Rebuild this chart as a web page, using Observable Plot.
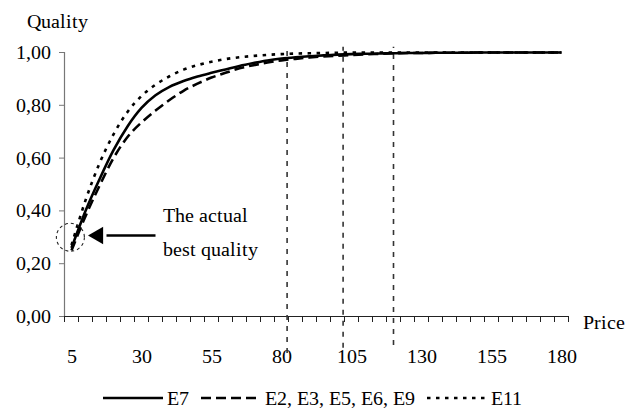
<!DOCTYPE html>
<html>
<head>
<meta charset="utf-8">
<script src="https://cdn.jsdelivr.net/npm/d3@7"></script>
<script src="https://cdn.jsdelivr.net/npm/@observablehq/plot@0.6"></script>
<style>
  @font-face { font-family: "ChartSerif"; src: local("Liberation Serif"), local("LiberationSerif"), local("LiberationSerif-Regular"), local("Times New Roman"); }
</style>
</head>
<body style="margin:0;padding:0;background:#fff;overflow:hidden;font-size:20px">
<div id="chart"></div>
<div id="legend" style="height:36px;display:flex;align-items:center;justify-content:center;color:#000"></div>
<script>
// ---- data ----
const prices = [5,10,15,20,25,30,35,40,45,50,55,60,65,70,75,80,85,90,95,100,105,110,115,120,125,130,135,140,145,150,155,160,165,170,175,180];
const e7  = [0.26,0.40,0.52,0.63,0.72,0.79,0.838,0.87,0.892,0.909,0.923,0.936,0.949,0.960,0.970,0.977,0.982,0.986,0.989,0.992,0.994,0.995,0.996,0.997,0.998,0.998,0.999,0.999,0.999,1.0,1.0,1.0,1.0,1.0,1.0,1.0];
const e2  = [0.25,0.38,0.495,0.60,0.68,0.735,0.78,0.82,0.855,0.882,0.905,0.923,0.940,0.952,0.962,0.970,0.976,0.981,0.985,0.988,0.990,0.993,0.995,0.997,0.998,0.998,0.999,0.999,0.999,1.0,1.0,1.0,1.0,1.0,1.0,1.0];
const e11 = [0.27,0.44,0.58,0.69,0.775,0.835,0.878,0.91,0.935,0.952,0.965,0.975,0.982,0.987,0.991,0.994,0.996,0.997,0.998,0.999,1.0,1.0,1.0,1.0,1.0,1.0,1.0,1.0,1.0,1.0,1.0,1.0,1.0,1.0,1.0,1.0];
const seriesNames = ["E7", "E2, E3, E5, E6, E9", "E11"];
const seriesDash = [null, "10,5", "3.5,5.5"];
const yTicks = [0, 0.2, 0.4, 0.6, 0.8, 1.0];
const xLabels = [5, 30, 55, 80, 105, 130, 155, 180];
const xBounds = d3.range(2.5, 183, 5);          // category boundaries (tick marks)
const refPrices = [82, 102, 120];
const refBottom = [-0.14, -0.12, -0.11];
const refTop = [1.02, 1.02, 1.02];
const noteText = ["The actual\nbest quality"];
const noteX = [37.5], noteY = [0.334];
const circleX = [4.6], circleY = [0.30];
const arrowX1 = [35], arrowX2 = [14.5], arrowY = [0.307];

const FONT = '"ChartSerif", "Liberation Serif"';
const seriesValues = [e7, e2, e11];
const rows = seriesValues.map((vals, s) => prices.map((p, i) => ({price: p, value: vals[i], series: seriesNames[s]})));
const refs = refPrices.map((p, i) => ({price: p, y1: refBottom[i], y2: refTop[i]}));
const fmt = d => d3.format(".2f")(d).replace(".", ",");

const lineMarks = rows.map((r, s) => Plot.line(r, {
  x: "price", y: "value", curve: "monotone-x",
  stroke: "#000", strokeWidth: 2.6,
  strokeDasharray: seriesDash[s] || undefined, strokeLinecap: "butt"
}));

const plot = Plot.plot({
  width: 636, height: 380,
  marginLeft: 64, marginRight: 68, marginTop: 52, marginBottom: 64,
  style: {fontSize: "20px", fontFamily: FONT, background: "white", color: "#000", overflow: "visible"},
  x: {domain: [2.5, 182.5], axis: null},
  y: {domain: [0, 1], axis: null},
  marks: [
    Plot.axisY({ticks: yTicks, tickSize: 5, tickPadding: 9, tickFormat: fmt, label: null, stroke: "#777", fontFamily: FONT}),
    Plot.ruleX([2.5], {y1: 0, y2: 1, stroke: "#777", strokeWidth: 1.2}),
    Plot.axisX({ticks: xBounds, tickSize: 6, tickFormat: () => "", label: null, stroke: "#222"}),
    Plot.text(xLabels, {x: d => d, y: 0, dy: 40, text: d => String(d), lineAnchor: "middle", fontFamily: FONT}),
    Plot.ruleY([0], {stroke: "#222", strokeWidth: 1.2}),
    Plot.ruleX(refs, {x: "price", y1: "y1", y2: "y2", stroke: "#333", strokeWidth: 1.6, strokeDasharray: "5,6"}),
    ...lineMarks,
    Plot.dot(circleX, {x: d => d, y: (d, i) => circleY[i], r: 14, stroke: "#222", strokeWidth: 1.1, strokeDasharray: "3,3", fill: "none", ariaLabel: "ellipse-note"}),
    Plot.link(arrowX1, {x1: d => d, x2: (d, i) => arrowX2[i] + 3, y1: (d, i) => arrowY[i], y2: (d, i) => arrowY[i], stroke: "#000", strokeWidth: 2.6}),
    Plot.dot(arrowX2, {x: d => d, y: (d, i) => arrowY[i], symbol: "triangle", r: 6.5, fill: "#000", stroke: "none", rotate: -90}),
    Plot.text(noteText, {x: (d, i) => noteX[i], y: (d, i) => noteY[i], text: d => d, textAnchor: "start", lineAnchor: "middle", lineHeight: 1.7, fontFamily: FONT}),
    Plot.text(["Quality"], {frameAnchor: "top-left", dx: -7, dy: -31, textAnchor: "middle", lineAnchor: "middle", fontFamily: FONT}),
    Plot.text(["Price"], {frameAnchor: "bottom-right", dx: 14, dy: 6, textAnchor: "start", lineAnchor: "middle", fontFamily: FONT})
  ]
});
document.getElementById("chart").appendChild(plot);

// serif font forced inline on every text element
d3.select(plot).selectAll("text, tspan").each(function() {
  this.style.setProperty("font-family", FONT, "important");
});

// turn the annotation circle into an ellipse
d3.select(plot).selectAll('g[aria-label="ellipse-note"] circle').each(function() {
  const bb = this.getBBox();
  const el = document.createElementNS("http://www.w3.org/2000/svg", "ellipse");
  el.setAttribute("cx", bb.x + bb.width / 2);
  el.setAttribute("cy", bb.y + bb.height / 2);
  el.setAttribute("rx", 12);
  el.setAttribute("ry", 16.5);
  const t = this.getAttribute("transform");
  if (t) el.setAttribute("transform", t);
  this.parentNode.replaceChild(el, this);
});

// legend
const legend = d3.select("#legend");
seriesNames.forEach((name, s) => {
  const sv = legend.append("svg").attr("width", 60).attr("height", 10).style("display", "block");
  sv.append("line").attr("x1", 0).attr("x2", 60).attr("y1", 5).attr("y2", 5)
    .attr("stroke", "#000").attr("stroke-width", 2.6)
    .attr("stroke-dasharray", seriesDash[s]);
  const sp = legend.append("span").text(name);
  sp.node().style.setProperty("font-family", FONT, "important");
  sp.node().style.marginLeft = "4px";
  sp.node().style.marginRight = "12px";
});
</script>
</body>
</html>
